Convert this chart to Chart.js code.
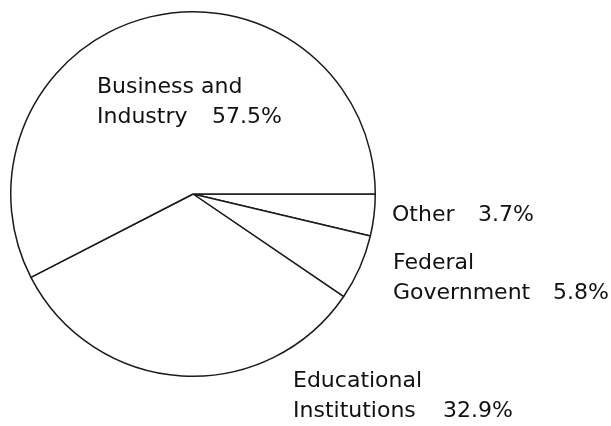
<!DOCTYPE html>
<html>
<head>
<meta charset="utf-8">
<script src="https://cdn.jsdelivr.net/npm/chart.js@4.4.0/dist/chart.umd.min.js"></script>
<style>
  html, body { margin: 0; padding: 0; background: #fff; }
  #wrap { width: 611px; height: 426px; }
</style>
</head>
<body>
<div id="wrap"><canvas id="pie" width="611" height="426"></canvas></div>
<script>
/* ---------- DATA ---------- */
const categories = ['Other', 'Federal Government', 'Educational Institutions', 'Business and Industry'];
const shares = [3.7, 5.8, 32.9, 57.5];
// label text split the way the original prints it
const nameLines = [['Other'], ['Federal', 'Government'], ['Educational', 'Institutions'], ['Business and', 'Industry']];
const valueLabels = ['3.7%', '5.8%', '32.9%', '57.5%'];

/* ---------- LABELS (offsets from pie centre) ---------- */
const labelLayout = [
  { x: 199, y: 21, vx: 285 },
  { x: 200, y: 69, vx: 360 },
  { x: 100, y: 187, vx: 250 },
  { x: -96, y: -107, vx: 19 }
];
const lineGap = 30;

const pieLabels = {
  id: 'pieLabels',
  afterDraw(chart) {
    const arc = chart.getDatasetMeta(0).data[0];
    if (!arc) return;
    const { x: cx, y: cy } = arc.getProps(['x', 'y'], true);
    const ctx = chart.ctx;
    ctx.save();
    ctx.fillStyle = '#111';
    ctx.font = '22px "DejaVu Sans", sans-serif';
    ctx.textBaseline = 'middle';
    ctx.textAlign = 'left';
    nameLines.forEach((lines, i) => {
      const p = labelLayout[i];
      lines.forEach((t, j) => ctx.fillText(t, cx + p.x, cy + p.y + j * lineGap));
      ctx.fillText(valueLabels[i], cx + p.vx, cy + p.y + (lines.length - 1) * lineGap);
    });
    ctx.restore();
  }
};

/* ---------- CHART ---------- */
new Chart(document.getElementById('pie').getContext('2d'), {
  type: 'pie',
  data: {
    labels: categories,
    datasets: [{
      data: shares,
      backgroundColor: '#ffffff',
      borderColor: '#1a1a1a',
      borderWidth: 1.5
    }]
  },
  options: {
    responsive: false,
    animation: false,
    rotation: 90,
    layout: { padding: { left: 10, top: 11, right: 235, bottom: 49 } },
    plugins: { legend: { display: false }, tooltip: { enabled: false } }
  },
  plugins: [pieLabels]
});
</script>
</body>
</html>
